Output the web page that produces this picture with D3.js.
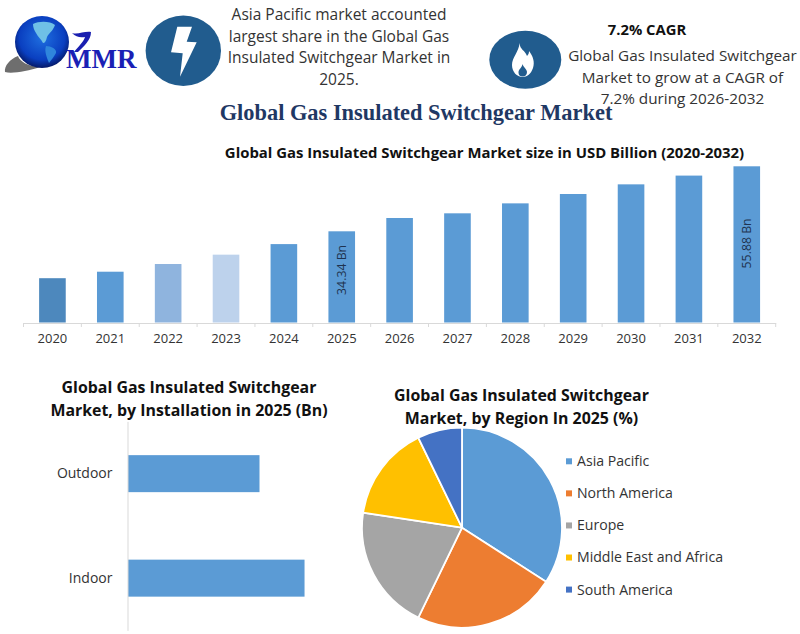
<!DOCTYPE html>
<html>
<head>
<meta charset="utf-8">
<script src="https://cdn.jsdelivr.net/npm/d3@7"></script>
<style>
  html, body { margin: 0; padding: 0; background: #fff; }
  svg { display: block; }
  text { font-family: "Open Sans", sans-serif; }
</style>
</head>
<body>
<script>
let w = 800;
let h = 634;

// market size (2025 and 2032 are labelled)
let years = ["2020", "2021", "2022", "2023", "2024", "2025", "2026", "2027", "2028", "2029", "2030", "2031", "2032"];
let marketSize = [18.8, 20.95, 23.5, 26.6, 30.1, 34.34, 38.75, 40.3, 43.6, 46.7, 49.9, 52.8, 55.88];
let yearColors = ["#4d88bd", "#5b9bd5", "#8fb4de", "#bdd2ec", "#5b9bd5", "#5b9bd5", "#5b9bd5", "#5b9bd5", "#5b9bd5", "#5b9bd5", "#5b9bd5", "#5b9bd5", "#5b9bd5"];
let labelledYears = {"2025": "34.34 Bn", "2032": "55.88 Bn"};

let installations = ["Outdoor", "Indoor"];
let installationValues = [14.66, 19.68];

let regions = ["Asia Pacific", "North America", "Europe", "Middle East and Africa", "South America"];
let regionShares = [34.1, 23.1, 20.2, 15.4, 7.2];
let regionColors = ["#5b9bd5", "#ed7d31", "#a5a5a5", "#ffc000", "#4472c4"];

let leftNote = ["Asia Pacific market accounted", "largest share in the Global Gas", "Insulated Switchgear Market in", "2025."];
let rightNote = ["Global Gas Insulated Switchgear", "Market to grow at a CAGR of", "7.2% during 2026-2032"];

let textColor = "#333";
let axisColor = "#d9d9d9";
let iconColor = "#215c8e";

let svg = d3.select("body")
    .append("svg")
    .attr("width", w)
    .attr("height", h);

function lines(list, x, y0, step, size, weight) {
    svg.append("g").selectAll("text")
        .data(list)
        .enter()
        .append("text")
        .attr("x", x)
        .attr("y", (d, i) => y0 + i * step)
        .attr("text-anchor", "middle")
        .attr("font-size", size)
        .attr("font-weight", weight)
        .attr("fill", weight === "bold" ? "#111" : textColor)
        .text(d => d);
}

/* logo */
let defs = svg.append("defs");
let globeGrad = defs.append("radialGradient")
    .attr("id", "globe")
    .attr("cx", "50%")
    .attr("cy", "42%")
    .attr("r", "60%");
globeGrad.append("stop").attr("offset", "0%").attr("stop-color", "#1f6fe0");
globeGrad.append("stop").attr("offset", "70%").attr("stop-color", "#0a3fc0");
globeGrad.append("stop").attr("offset", "100%").attr("stop-color", "#04145c");

svg.append("path")
    .attr("d", "M5,72 C4,66 10,59 18,56 C20,62 28,66 40,67 C28,71 12,74 5,72 Z")
    .attr("fill", "#6e6e6e");
svg.append("ellipse")
    .attr("cx", 42)
    .attr("cy", 42)
    .attr("rx", 27)
    .attr("ry", 26)
    .attr("fill", "url(#globe)");
// continents on the globe
svg.append("path")
    .attr("d", "M33,24 C39,21 50,21 55,25 C53,31 49,33 47,37 C46,41 45,43 43,43 C41,39 38,37 36,33 C34,30 33,27 33,24 Z")
    .attr("fill", "#6fc0e6");
svg.append("path")
    .attr("d", "M46,46 C51,46 57,49 56,53 C54,57 51,60 49,63 C47,58 44,51 46,46 Z")
    .attr("fill", "#2f86dc");
svg.append("path")
    .attr("d", "M72,33 C78,35 84,31 91,32 C91,40 84,46 78,52 L74,52 C79,46 84,41 85,37 C80,38 76,37 72,33 Z")
    .attr("fill", "#1a1fb0");
svg.append("text")
    .attr("x", 66)
    .attr("y", 68)
    .attr("font-size", 27)
    .attr("font-weight", "bold")
    .attr("fill", "#1a1fb5")
    .style("font-family", "'Liberation Serif', serif")
    .text("MMR");

/* icons */
svg.append("ellipse")
    .attr("cx", 183.3)
    .attr("cy", 50.7)
    .attr("rx", 37.7)
    .attr("ry", 35.2)
    .attr("fill", iconColor);
svg.append("path")
    .attr("d", "M177.3,26.7 L192,26.7 L186.7,41.7 L196.7,42.3 L180,76.7 L182.7,53.3 L171,52.3 Z")
    .attr("fill", "#fff");
svg.append("ellipse")
    .attr("cx", 525.3)
    .attr("cy", 59.7)
    .attr("rx", 36)
    .attr("ry", 29)
    .attr("fill", iconColor);
svg.append("path")
    .attr("d", "M519.5,43 C520,50 525,50 527,56 C529,54 529,52 529,51 C533,56 535,62 533,68 C531,74 527,77 522.5,77 C517,77 512,72 512,65 C512,57 519,52 519.5,43 Z")
    .attr("fill", "#fff");
svg.append("path")
    .attr("d", "M522.5,64 C523,67 527,69 527,72 C527,75 525,76.5 522.5,76.5 C520,76.5 518.5,75 518.5,72.5 C518.5,69 522,68 522.5,64 Z")
    .attr("fill", iconColor);

/* top notes */
lines(leftNote, 339, 20, 21.6, 15.5, "normal");
lines(["7.2% CAGR"], 647, 34.5, 0, 14.8, "bold");
lines(rightNote, 682.5, 61, 21.6, 15.3, "normal");

svg.append("text")
    .attr("x", 416)
    .attr("y", 120)
    .attr("text-anchor", "middle")
    .attr("font-size", 22.4)
    .attr("font-weight", "bold")
    .attr("fill", "#1f3864")
    .style("font-family", "'Liberation Serif', serif")
    .text("Global Gas Insulated Switchgear Market");

lines(["Global Gas Insulated Switchgear Market size in USD Billion (2020-2032)"], 484.5, 158, 0, 14.9, "bold");

/* column chart */
let x = d3.scaleBand()
    .domain(years)
    .range([23.5, 775.7])
    .paddingInner(0.54)
    .paddingOuter(0.27);

let y = d3.scaleLinear()
    .domain([4.12, 55.88])
    .range([322.5, 166.3]);

svg.selectAll("rect.year")
    .data(marketSize)
    .enter()
    .append("rect")
    .attr("class", "year")
    .attr("x", (d, i) => x(years[i]))
    .attr("y", d => y(d))
    .attr("width", x.bandwidth())
    .attr("height", d => y.range()[0] - y(d))
    .attr("fill", (d, i) => yearColors[i]);

let xAxis = svg.append("g")
    .attr("transform", "translate(0,323)")
    .call(d3.axisBottom(x).tickSize(0).tickPadding(11));
xAxis.select(".domain").attr("stroke", axisColor);
xAxis.selectAll("text")
    .attr("font-size", 13)
    .attr("fill", textColor)
    .style("font-family", "'Open Sans', sans-serif");

// ticks sit between the categories
xAxis.selectAll("line.edge")
    .data(d3.range(years.length + 1))
    .enter()
    .append("line")
    .attr("class", "edge")
    .attr("x1", i => x.range()[0] + i * x.step())
    .attr("x2", i => x.range()[0] + i * x.step())
    .attr("y1", 0)
    .attr("y2", 4)
    .attr("stroke", axisColor);

svg.selectAll("text.barLabel")
    .data(years.filter(d => labelledYears[d]))
    .enter()
    .append("text")
    .attr("class", "barLabel")
    .attr("transform", d => {
        let i = years.indexOf(d);
        let cy = (y(marketSize[i]) + y.range()[0]) / 2;
        return `translate(${x(d) + x.bandwidth() / 2},${d === "2025" ? cy - 7 : cy - 1}) rotate(-90)`;
    })
    .attr("text-anchor", "middle")
    .attr("dy", "0.35em")
    .attr("font-size", 12.3)
    .attr("fill", "#1f3350")
    .text(d => labelledYears[d]);

/* installation bars */
lines(["Global Gas Insulated Switchgear", "Market, by Installation in 2025 (Bn)"], 189, 392.5, 23, 15.9, "bold");

let iy = d3.scaleBand()
    .domain(installations)
    .range([421.4, 630.4])
    .paddingInner(0.646)
    .paddingOuter(0.323);

let ix = d3.scaleLinear()
    .domain([0, 20])
    .range([128, 307.4]);

svg.selectAll("rect.inst")
    .data(installationValues)
    .enter()
    .append("rect")
    .attr("class", "inst")
    .attr("x", ix(0))
    .attr("y", (d, i) => iy(installations[i]))
    .attr("width", d => ix(d) - ix(0))
    .attr("height", iy.bandwidth())
    .attr("fill", "#5b9bd5");

let yAxis = svg.append("g")
    .attr("transform", "translate(127.5,0)")
    .call(d3.axisLeft(iy).tickSize(0).tickPadding(15));
yAxis.select(".domain").attr("stroke", axisColor);
yAxis.selectAll("text")
    .attr("font-size", 14)
    .attr("fill", textColor)
    .style("font-family", "'Open Sans', sans-serif");

/* region pie */
lines(["Global Gas Insulated Switchgear", "Market, by Region In 2025 (%)"], 521.5, 400.5, 23.7, 15.9, "bold");

let pie = d3.pie().sort(null);
let arc = d3.arc().innerRadius(0).outerRadius(100);

svg.append("g")
    .attr("transform", "translate(462,527.7)")
    .selectAll("path")
    .data(pie(regionShares))
    .enter()
    .append("path")
    .attr("d", arc)
    .attr("fill", (d, i) => regionColors[i])
    .attr("stroke", "#fff")
    .attr("stroke-width", 1.8);

let legendY = d3.scalePoint()
    .domain(regions)
    .range([461.3, 589.6]);

svg.selectAll("rect.key")
    .data(regions)
    .enter()
    .append("rect")
    .attr("class", "key")
    .attr("x", 566)
    .attr("y", d => legendY(d) - 3)
    .attr("width", 6)
    .attr("height", 6)
    .attr("fill", (d, i) => regionColors[i]);

svg.selectAll("text.key")
    .data(regions)
    .enter()
    .append("text")
    .attr("class", "key")
    .attr("x", 577)
    .attr("y", d => legendY(d))
    .attr("dy", "0.35em")
    .attr("font-size", 14.1)
    .attr("fill", textColor)
    .text(d => d);
</script>
</body>
</html>
